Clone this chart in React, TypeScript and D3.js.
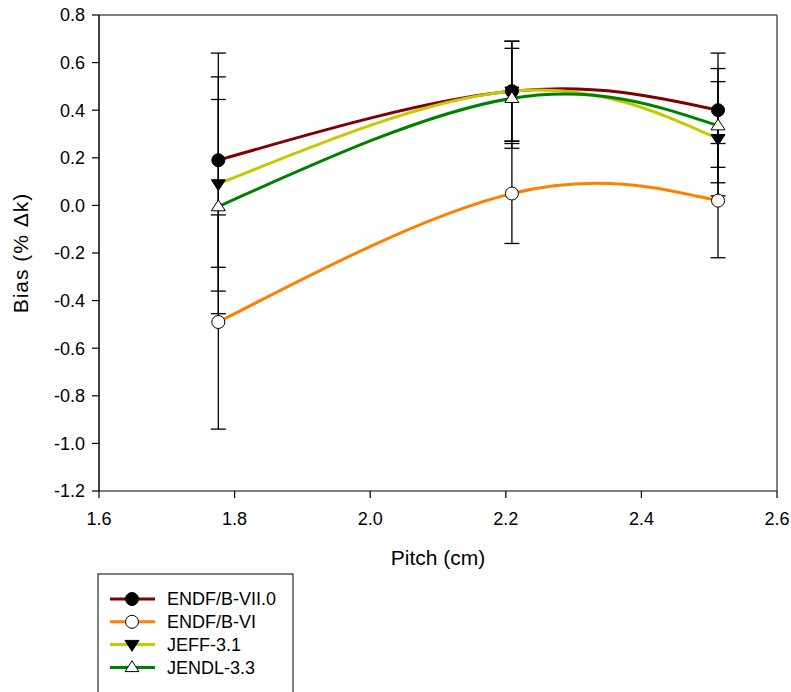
import React from "react";
import * as d3 from "d3";

const pitches = [1.776, 2.209, 2.513];
const seriesNames = ["ENDF/B-VII.0", "ENDF/B-VI", "JEFF-3.1", "JENDL-3.3"];
const endf7 = [0.19, 0.48, 0.40];
const endf6 = [-0.49, 0.05, 0.02];
const jeff = [0.09, 0.48, 0.28];
const jendl = [-0.005, 0.45, 0.335];
const errors = [0.45, 0.21, 0.24];
const colors = ["#800000", "#FF8000", "#C8C800", "#008000"];
const markers = ["circleFilled", "circleOpen", "triDown", "triUp"];
const xTicks = [1.6, 1.8, 2.0, 2.2, 2.4, 2.6];
const yTicks = [0.8, 0.6, 0.4, 0.2, 0.0, -0.2, -0.4, -0.6, -0.8, -1.0, -1.2];

const W = 791, H = 692;
const L = 99, R = 777, T = 15, B = 491;
const FONT = "'Liberation Sans', Arial, sans-serif";

function Marker({ kind, x, y }: { kind: string; x: number; y: number }) {
  const r = 6.5;
  if (kind === "circleFilled") return <circle cx={x} cy={y} r={r} fill="#000" stroke="#000" strokeWidth={1} />;
  if (kind === "circleOpen") return <circle cx={x} cy={y} r={r} fill="#fff" stroke="#000" strokeWidth={1} />;
  const s = 7;
  if (kind === "triDown")
    return <path d={`M${x - s},${y - s * 0.6}L${x + s},${y - s * 0.6}L${x},${y + s * 0.95}Z`} fill="#000" stroke="#000" strokeWidth={1} />;
  return <path d={`M${x - s},${y + s * 0.6}L${x + s},${y + s * 0.6}L${x},${y - s * 0.95}Z`} fill="#fff" stroke="#000" strokeWidth={1} />;
}

export default function App() {
  const xs = d3.scaleLinear().domain([1.6, 2.6]).range([L, R]);
  const ys = d3.scaleLinear().domain([-1.2, 0.8]).range([B, T]);
  const data = [endf7, endf6, jeff, jendl];
  const line = d3
    .line<number>()
    .x((_, i) => xs(pitches[i]))
    .y((d) => ys(d))
    .curve(d3.curveNatural);

  return (
    <svg width={W} height={H} style={{ position: "absolute", left: 0, top: 0, background: "#fff" }} fontFamily={FONT}>
      <rect x={0} y={0} width={W} height={H} fill="#fff" />
      {/* frame */}
      <line x1={L} x2={R} y1={T} y2={T} stroke="#555" strokeWidth={1.5} />
      <line x1={R} x2={R} y1={T} y2={B} stroke="#555" strokeWidth={1.5} />
      <line x1={L} x2={R} y1={B} y2={B} stroke="#555" strokeWidth={1.5} />
      <line x1={L} x2={L} y1={T} y2={B} stroke="#000" strokeWidth={1.5} />
      {/* y ticks */}
      {yTicks.map((t) => (
        <g key={"y" + t}>
          <line x1={L - 7} x2={L} y1={ys(t)} y2={ys(t)} stroke="#000" strokeWidth={1.2} />
          <text x={L - 14} y={ys(t)} dy="0.35em" textAnchor="end" fontSize={18}>
            {t.toFixed(1)}
          </text>
        </g>
      ))}
      {/* x ticks */}
      {xTicks.map((t) => (
        <g key={"x" + t}>
          <line x1={xs(t)} x2={xs(t)} y1={B} y2={B + 7} stroke="#000" strokeWidth={1.2} />
          <text x={xs(t)} y={B + 34} textAnchor="middle" fontSize={18}>
            {t.toFixed(1)}
          </text>
        </g>
      ))}
      <text x={(L + R) / 2} y={565} textAnchor="middle" fontSize={21}>
        Pitch (cm)
      </text>
      <text transform={`translate(28,${(T + B) / 2}) rotate(-90)`} textAnchor="middle" fontSize={21} letterSpacing={1}>
        Bias (% Δk)
      </text>
      {/* error bars */}
      {data.map((s, si) =>
        s.map((v, i) => {
          const x = xs(pitches[i]);
          const y1 = ys(v + errors[i]);
          const y2 = ys(v - errors[i]);
          return (
            <g key={`e${si}-${i}`} stroke="#000" strokeWidth={1.3}>
              <line x1={x} x2={x} y1={y1} y2={y2} />
              <line x1={x - 7.5} x2={x + 7.5} y1={y1} y2={y1} />
              <line x1={x - 7.5} x2={x + 7.5} y1={y2} y2={y2} />
            </g>
          );
        })
      )}
      {/* lines */}
      {data.map((s, si) => (
        <path key={"l" + si} d={line(s) || ""} fill="none" stroke={colors[si]} strokeWidth={3} />
      ))}
      {/* markers */}
      {data.map((s, si) =>
        s.map((v, i) => <Marker key={`m${si}-${i}`} kind={markers[si]} x={xs(pitches[i])} y={ys(v)} />)
      )}
      {/* legend */}
      <rect x={98} y={574} width={195} height={130} fill="#fff" stroke="#000" strokeWidth={1} />
      {seriesNames.map((n, i) => {
        const y = 599 + i * 22.8;
        return (
          <g key={"lg" + i}>
            <line x1={110} x2={155} y1={y} y2={y} stroke={colors[i]} strokeWidth={3} />
            <Marker kind={markers[i]} x={132} y={y} />
            <text x={167} y={y} dy="0.35em" fontSize={18}>
              {n}
            </text>
          </g>
        );
      })}
    </svg>
  );
}
